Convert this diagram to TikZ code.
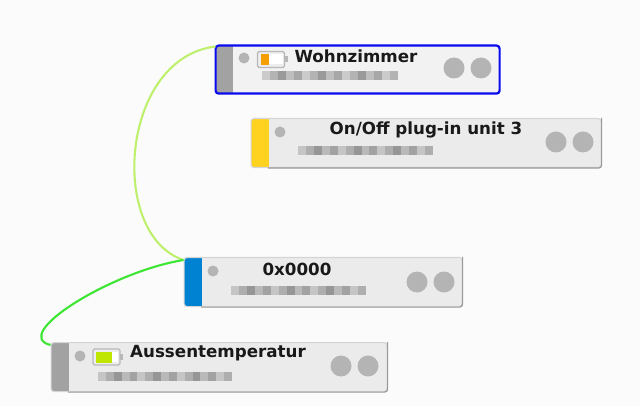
\documentclass[tikz,border=0pt]{standalone}
\usepackage{fontspec}
\setmainfont{DejaVu Sans}
\usetikzlibrary{calc,positioning}
\definecolor{pagebg}{HTML}{FBFBFB}
\definecolor{cardbg}{HTML}{EBEBEB}
\definecolor{cardline}{HTML}{D4D4D4}
\definecolor{cardshade}{HTML}{9A9A9A}
\definecolor{dotgrey}{HTML}{B4B4B4}
\definecolor{stripgrey}{HTML}{A2A2A2}
\definecolor{stripyellow}{HTML}{FFD21F}
\definecolor{stripblue}{HTML}{0082D2}
\definecolor{selblue}{HTML}{0A0AF0}
\definecolor{linklight}{HTML}{BEF06E}
\definecolor{linkgreen}{HTML}{3CE632}
\definecolor{chargeorange}{HTML}{F5A000}
\definecolor{chargelime}{HTML}{BEE600}

\begin{document}
\begin{tikzpicture}
[x=1pt,y=-1pt,
card/.style = {draw=cardline, fill=cardbg, line width=1.1pt, rounded corners=3pt, inner sep=0pt, anchor=north west},
strip/.style = {path picture={\fill[#1, sharp corners] (path picture bounding box.north west) rectangle ([xshift=17.5pt]path picture bounding box.south west);}},
title/.style = {font=\bfseries\fontsize{16.7}{18}\selectfont, text=black!90, inner sep=0pt},
dot/.style = {circle, fill=dotgrey, inner sep=0pt, minimum size=11pt},
port/.style = {circle, fill=dotgrey, inner sep=0pt, minimum size=21pt},
link/.style = {line width=2.1pt},
shade/.style = {draw=cardshade, line width=1.2pt, rounded corners=3pt},
pics/battery/.style args = {#1/#2}{code={
  \draw[fill=black!7, draw=black!28, line width=1.2pt, rounded corners=1.5pt] (-14,-8) rectangle (13,8);
  \fill[black!28] (13,-3) rectangle (16,3);
  \fill[white] (-11,-5) rectangle (11,5);
  \fill[#1] (-11,-5.5) rectangle (#2,5.5);
}},
]
\fill[pagebg] (0,0) rectangle (640,406);
\useasboundingbox (0,0) rectangle (640,406);

\node (wohn) at (214.5,44.5)[card, strip=stripgrey, minimum width=284pt, minimum height=48pt, fill=black!5, draw=selblue, line width=2.2pt] {};
\node (onoff) at (250.5,118)[card, strip=stripyellow, minimum width=350pt, minimum height=49pt] {};
\node (zero) at (183.5,257)[card, strip=stripblue, minimum width=278pt, minimum height=49pt] {};
\node (aussen) at (50.5,342)[card, strip=stripgrey, minimum width=336pt, minimum height=49pt] {};

\draw[shade] ([xshift=17.5pt]onoff.south west) -- (onoff.south east) -- (onoff.north east);
\draw[shade] ([xshift=17.5pt]zero.south west) -- (zero.south east) -- (zero.north east);
\draw[shade] ([xshift=17.5pt]aussen.south west) -- (aussen.south east) -- (aussen.north east);

\coordinate (wohnin) at ($(wohn.north west)+(1,2)$);
\coordinate (zeroin) at ($(zero.north west)+(0,3)$);
\coordinate (aussenin) at ($(aussen.north west)+(0,3)$);

\draw[link, linklight] (wohnin) .. controls (120,58) and (108,235) .. (zeroin);
\draw[link, linkgreen] (zeroin) .. controls (110,272) and (10,335) .. (aussenin);

\node (wohndot) at (244,58)[dot] {};
\node (onoffdot) at (280,132)[dot] {};
\node (zerodot) at (213,271)[dot] {};
\node (aussendot) at (80,356)[dot] {};

\node (wohnp1) at (454,68)[port] {};
\node (wohnp2) at (481,68)[port] {};
\node (onoffp1) at (556,142)[port] {};
\node (onoffp2) at (583,142)[port] {};
\node (zerop1) at (417,282)[port] {};
\node (zerop2) at (444,282)[port] {};
\node (aussenp1) at (341,366)[port] {};
\node (aussenp2) at (368,366)[port] {};

\pic at (271.5,59.5) {battery=chargeorange/-2.5};
\pic at (107,357) {battery=chargelime/5};

\node (wohntitle) at (356,56)[title] {Wohnzimmer};
\node (onofftitle) at (426,130)[title] {On/Off plug-in unit 3};
\node (zerotitle) at (297,269)[title] {0x0000};
\node (aussentitle) at (218,353)[title] {Aussentemperatur};

% blurred serial numbers
\foreach \sx/\sy/\sl in {262/76/136,298/151/135,231/290/135,98/376/134}
  \foreach \i in {0,...,16} {
    \pgfmathsetmacro{\op}{0.16+0.05*mod(\i*7,5)}
    \fill[black, opacity=\op] ({\sx+\i*\sl/17},\sy-4.5) rectangle ({\sx+(\i+1)*\sl/17},\sy+4.5);
  }

\end{tikzpicture}
\end{document}
